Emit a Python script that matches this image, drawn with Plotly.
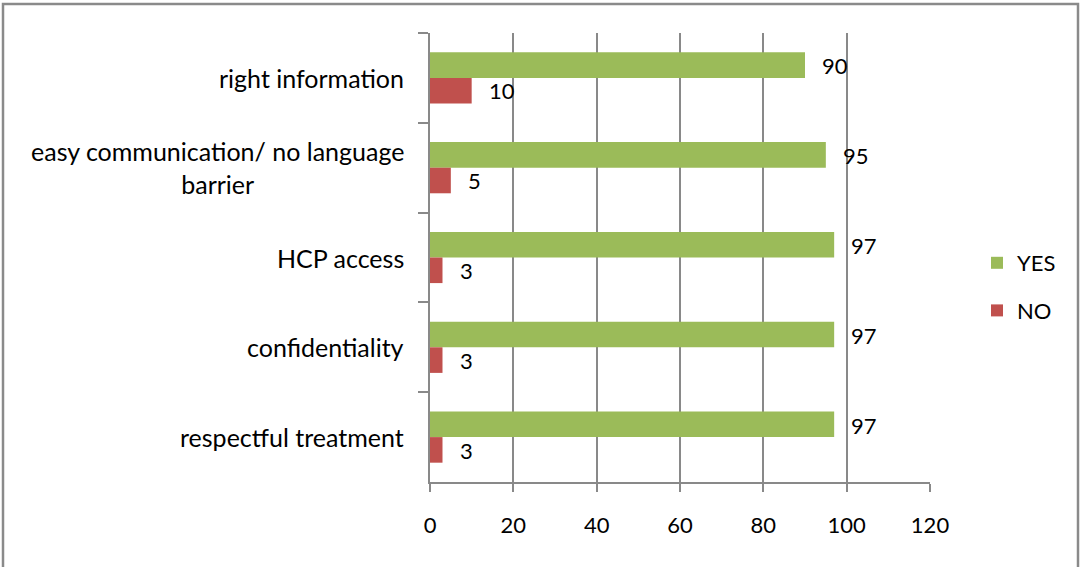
import plotly.graph_objects as go

categories = ["right information", "easy communication/ no language<br>barrier",
              "HCP access", "confidentiality", "respectful treatment"]
yes_values = [90, 95, 97, 97, 97]
no_values = [10, 5, 3, 3, 3]
x_ticks = [0, 20, 40, 60, 80, 100, 120]

GREEN = "#9BBB59"
RED = "#C0504D"
GRID = "#898989"
FONT = "Lato"
FS = 25
NFS = 22

L, R, T, B = 430, 150, 33, 85
W, H = 1080, 567
pw, ph = W - L - R, H - T - B

fig = go.Figure()
fig.add_trace(go.Bar(y=categories, x=yes_values, orientation="h", name="YES",
                     marker=dict(color=GREEN, line=dict(width=0)), legendgroup="a"))
fig.add_trace(go.Bar(y=categories, x=no_values, orientation="h", name="NO",
                     marker=dict(color=RED, line=dict(width=0)), legendgroup="b"))

ann = []
for c, v in zip(categories, yes_values):
    ann.append(dict(x=v, y=c, xref="x", yref="y", text=str(v), showarrow=False,
                    xanchor="left", yanchor="middle", xshift=15, yshift=12,
                    font=dict(family=FONT, size=NFS, color="black")))
for c, v in zip(categories, no_values):
    ann.append(dict(x=v, y=c, xref="x", yref="y", text=str(v), showarrow=False,
                    xanchor="left", yanchor="middle", xshift=15, yshift=-13,
                    font=dict(family=FONT, size=NFS, color="black")))
for c in categories:
    ann.append(dict(x=0, y=c, xref="paper", yref="y", text=c, showarrow=False,
                    xanchor="right", yanchor="middle", align="center", xshift=-24,
                    font=dict(family=FONT, size=FS, color="black")))

fig.update_layout(
    width=W, height=H,
    margin=dict(l=L, r=R, t=T, b=B),
    paper_bgcolor="white", plot_bgcolor="white",
    barmode="group", bargap=0.43, bargroupgap=0.0,
    font=dict(family=FONT, size=FS, color="black"),
    annotations=ann,
    legend=dict(x=(977 - L) / pw, y=(H - B - 287) / ph, xanchor="left", yanchor="middle",
                traceorder="grouped", tracegroupgap=16,
                font=dict(family=FONT, size=NFS, color="black"),
                itemwidth=30),
    xaxis=dict(range=[0, 120], tickvals=x_ticks, showgrid=True, gridcolor=GRID,
               gridwidth=1.5, zeroline=False, showline=True, linecolor=GRID,
               linewidth=1.5, ticks="outside", ticklen=8, tickcolor=GRID,
               tickwidth=1.5, ticklabelstandoff=15,
               tickfont=dict(family=FONT, size=NFS, color="black")),
    yaxis=dict(categoryorder="array", categoryarray=categories, autorange="reversed",
               showgrid=False, showline=True, linecolor=GRID, linewidth=1.5,
               ticks="outside", ticklen=10, tickcolor=GRID, tickwidth=1.5,
               tickson="boundaries", showticklabels=False, zeroline=False),
    shapes=[dict(type="rect", xref="paper", yref="paper",
                 x0=(3 - L) / pw, x1=(1078 - L) / pw,
                 y0=-(B + 5) / ph, y1=(H - B - 4) / ph,
                 line=dict(color="#8a8a8a", width=2.5), fillcolor="rgba(0,0,0,0)",
                 layer="below")],
)

fig.write_html("out.html", config={"displayModeBar": False},
               post_script="document.body.style.margin='0';")
